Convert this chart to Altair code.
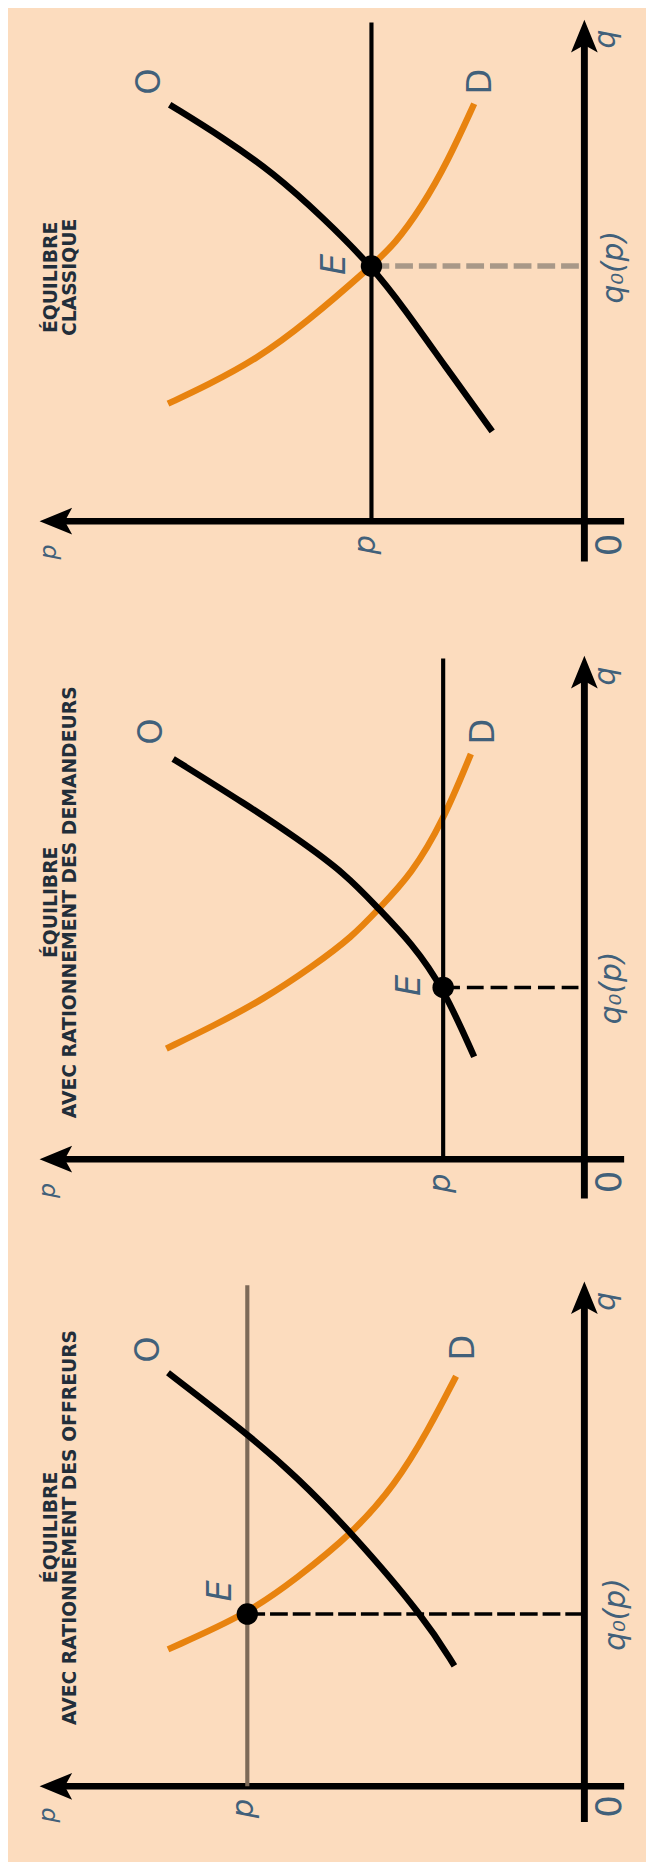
import altair as alt
import pandas as pd

PEACH = "#FCDCBE"
ORANGE = "#E8830F"
LABEL_COLOR = "#41607a"
TITLE_COLOR = "#222e3a"
FONT = "DejaVu Sans"

# horizontal axis = p (grows to the left), vertical axis = q (grows upward)
P_DOMAIN = [-10.692, 100]

# ---------- panel 1 : ÉQUILIBRE CLASSIQUE ----------
T1 = ["ÉQUILIBRE", "CLASSIQUE"]
D1_P = [72.24, 65.39, 56.82, 48.25, 36.94, 32.83, 28.26, 23.70, 19.12]
D1_Q = [23.33, 27.00, 32.22, 39.41, 50.65, 55.10, 62.29, 71.43, 82.88]
O1_P = [71.95, 62.53, 53.96, 45.39, 36.94, 31.12, 24.26, 15.99]
O1_Q = [82.69, 76.02, 69.14, 60.33, 50.65, 42.02, 30.92, 17.84]
E1_P, E1_Q = 36.94, 50.65

# ---------- panel 2 : RATIONNEMENT DES DEMANDEURS ----------
T2 = ["ÉQUILIBRE", "AVEC RATIONNEMENT DES DEMANDEURS"]
D2_P = [72.53, 64.24, 55.67, 47.11, 40.25, 35.69, 29.97, 24.55, 19.69]
D2_Q = [21.96, 26.53, 31.76, 38.29, 44.18, 49.70, 56.61, 67.06, 80.45]
O2_P = [71.35, 58.53, 49.97, 41.40, 35.69, 29.97, 24.55, 19.12]
O2_Q = [79.47, 70.33, 63.78, 56.61, 49.70, 42.88, 34.20, 20.33]
E2_P, E2_Q = 24.50, 34.10

# ---------- panel 3 : RATIONNEMENT DES OFFREURS ----------
T3 = ["ÉQUILIBRE", "AVEC RATIONNEMENT DES OFFREURS"]
D3_P = [72.24, 58.48, 49.97, 40.25, 32.83, 27.12, 22.26]
D3_Q = [27.20, 34.20, 41.24, 50.20, 59.86, 70.65, 81.43]
O3_P = [72.24, 58.48, 49.97, 40.25, 27.69, 22.55]
O3_Q = [82.10, 70.00, 61.51, 50.20, 33.39, 23.92]
E3_P, E3_Q = 58.48, 34.20

UP_ARROW = "M0,-1L0.82,1L0,0.55L-0.82,1Z"
LEFT_ARROW = "M-1,0L1,-0.82L0.55,0L1,0.82Z"

# layout of each panel (view height, q domain, label anchors)
LAYOUT = [
    dict(h=572, ydom=[-12.549, 99.608], price_top=99.0, qbot=-8.0, qarrow=96.3,
         lab_O=(75.4, 87.3), lab_D=(18.0, 87.3), lab_0=(-4.4, -4.7), lab_E=(43.2, 51.0),
         lab_q0=(-5.2, 50.4), lab_q=(-3.7, 95.7), lab_pp=(37.8, -4.7), lab_pa=(92.9, -6.1),
         title_q=48.4, dash_color="#A89888", dash_w=5.5, dash=[18, 6], price_color="#000000"),
    dict(h=640, ydom=[-11.373, 114.118], price_top=99.4, qbot=-7.8, qarrow=96.7,
         lab_O=(75.0, 84.9), lab_D=(17.4, 84.9), lab_0=(-4.4, -4.5), lab_E=(30.3, 34.5),
         lab_q0=(-4.8, 34.0), lab_q=(-3.7, 95.9), lab_pp=(24.9, -4.8), lab_pa=(93.1, -6.2),
         title_q=51.0, dash_color="#000000", dash_w=3.5, dash=[17, 7], price_color="#000000"),
    dict(h=642, ydom=[-12.745, 113.137], price_top=99.5, qbot=-7.1, qarrow=97.0,
         lab_O=(75.5, 86.7), lab_D=(20.8, 87.1), lab_0=(-4.4, -4.0), lab_E=(63.0, 38.8),
         lab_q0=(-5.5, 34.1), lab_q=(-3.7, 96.3), lab_pp=(59.0, -4.4), lab_pa=(93.1, -5.7),
         title_q=51.4, dash_color="#000000", dash_w=3.5, dash=[18, 5], price_color="#7d6a58"),
]

PANELS = [
    (T1, D1_P, D1_Q, O1_P, O1_Q, E1_P, E1_Q),
    (T2, D2_P, D2_Q, O2_P, O2_Q, E2_P, E2_Q),
    (T3, D3_P, D3_Q, O3_P, O3_Q, E3_P, E3_Q),
]


def build_panel(data, lay):
    titles, dp, dq, op, oq, ep, eq = data
    xs = alt.Scale(domain=P_DOMAIN, reverse=True, nice=False, zero=False)
    ys = alt.Scale(domain=lay["ydom"], nice=False, zero=False)
    X = alt.X("p:Q", scale=xs, axis=None)
    Y = alt.Y("q:Q", scale=ys, axis=None)

    def curve(ps, qs, color):
        df = pd.DataFrame({"p": ps, "q": qs, "i": list(range(len(ps)))})
        return alt.Chart(df).mark_line(
            color=color, strokeWidth=6.5, interpolate="basis", strokeCap="butt"
        ).encode(x=X, y=Y, order="i:Q")

    # axes
    q_axis = alt.Chart(pd.DataFrame({"p": [0], "q": [lay["qbot"]], "q2": [lay["qarrow"]]})).mark_rule(
        color="black", strokeWidth=7).encode(x=X, y=Y, y2="q2:Q")
    p_axis = alt.Chart(pd.DataFrame({"p": [-6.9], "p2": [91.0], "q": [0]})).mark_rule(
        color="black", strokeWidth=6.5).encode(x=X, x2="p2:Q", y=Y)
    up = alt.Chart(pd.DataFrame({"p": [0], "q": [lay["qarrow"]]})).mark_point(
        shape=UP_ARROW, size=1089, filled=True, color="black", opacity=1, strokeWidth=0).encode(x=X, y=Y)
    left = alt.Chart(pd.DataFrame({"p": [91.7], "q": [0]})).mark_point(
        shape=LEFT_ARROW, size=1089, filled=True, color="black", opacity=1, strokeWidth=0).encode(x=X, y=Y)

    price = alt.Chart(pd.DataFrame({"p": [ep], "q": [0], "q2": [lay["price_top"]]})).mark_rule(
        color=lay["price_color"], strokeWidth=4.2).encode(x=X, y=Y, y2="q2:Q")
    dashed = alt.Chart(pd.DataFrame({"p": [ep], "p2": [0], "q": [eq]})).mark_rule(
        color=lay["dash_color"], strokeWidth=lay["dash_w"], strokeDash=lay["dash"]).encode(x=X, x2="p2:Q", y=Y)
    dot = alt.Chart(pd.DataFrame({"p": [ep], "q": [eq]})).mark_circle(
        size=470, color="black", opacity=1).encode(x=X, y=Y)

    def texts(rows, italic, weight="normal", color=LABEL_COLOR):
        df = pd.DataFrame(rows, columns=["p", "q", "t", "fs"])
        return alt.Chart(df).mark_text(
            angle=270, align="center", baseline="middle", font=FONT,
            fontStyle="italic" if italic else "normal", fontWeight=weight, color=color
        ).encode(x=X, y=Y, text="t:N", size=alt.Size("fs:Q", scale=None, legend=None))

    upright = texts([
        (*lay["lab_O"], "O", 34),
        (*lay["lab_D"], "D", 34),
        (*lay["lab_0"], "0", 36),
    ], False)
    italic = texts([
        (*lay["lab_E"], "E", 34),
        (*lay["lab_q0"], "q₀(p)", 30),
        (*lay["lab_q"], "q", 30),
        (*lay["lab_pp"], "p", 31),
        (*lay["lab_pa"], "p", 24),
    ], True)
    title = texts([
        (92.55, lay["title_q"], titles[0], 19),
        (89.2, lay["title_q"], titles[1], 19),
    ], False, weight="bold", color=TITLE_COLOR)

    return alt.layer(
        q_axis, p_axis, up, left,
        curve(dp, dq, ORANGE), price, curve(op, oq, "black"),
        dashed, dot, upright, italic, title
    ).properties(width=646, height=lay["h"])


charts = [build_panel(d, l) for d, l in zip(PANELS, LAYOUT)]

chart = alt.vconcat(*charts, spacing=0, bounds="flush").resolve_scale(
    x="independent", y="independent"
).properties(padding=0, background=PEACH).configure_view(stroke=None)

chart.save("out.html", embed_options={"renderer": "svg", "actions": False})
